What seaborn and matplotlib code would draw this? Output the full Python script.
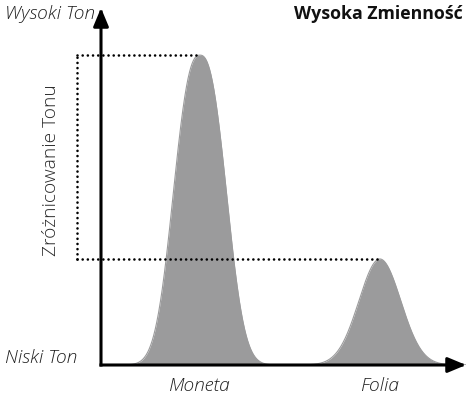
import numpy as np
import pandas as pd
import matplotlib
matplotlib.use("Agg")
import matplotlib.pyplot as plt
from matplotlib.patches import FancyArrowPatch
import seaborn as sns

# Two tone distributions drawn as bell curves
categories = ["Moneta", "Folia"]
peak_pos = [27.1, 76.4]        # centre of each bell on the horizontal axis
peak_height = [86.8, 29.7]     # tone spread reached by each bell
peak_width = [9.0, 8.1]        # half-width parameter of each bell
peak_shape = [2.5, 2.0]        # exponent of the bell (2 = gaussian)

y_top_label = "Wysoki Ton"
y_bottom_label = "Niski Ton"
y_axis_title = "Zróżnicowanie Tonu"
chart_title = "Wysoka Zmienność"

sns.set_theme(style="white")
plt.rcParams["font.family"] = ["Open Sans", "DejaVu Sans"]

W, H = 467, 396
fig = plt.figure(figsize=(W / 100, H / 100), dpi=100)
ax = fig.add_axes([101 / W, (H - 365) / H, (466 - 101) / W, (365 - 8) / H])
ax.set_xlim(0, 100)
ax.set_ylim(0, 100)
ax.axis("off")

fill_color = "#9b9b9c"
x = np.linspace(0, 100, 1200)
frames = []
for name, c, h, w, p in zip(categories, peak_pos, peak_height, peak_width, peak_shape):
    y = h * np.exp(-np.abs((x - c) / w) ** p)
    frames.append(pd.DataFrame({"x": x, "y": y, "kategoria": name}))
curves = pd.concat(frames, ignore_index=True)

sns.lineplot(data=curves, x="x", y="y", units="kategoria", estimator=None,
             color=fill_color, lw=0.8, ax=ax, legend=False)
for name in categories:
    d = curves[curves["kategoria"] == name]
    ax.fill_between(d["x"], 0, d["y"], color=fill_color, lw=0, zorder=2)

# Dotted guides from the peaks back to the tone scale
guide_x = -6.6
dot_kw = dict(color="black", lw=1.9, linestyle=(0, (0.01, 1.95)),
              dash_capstyle="round", clip_on=False, zorder=4)
ax.plot([guide_x, peak_pos[0]], [peak_height[0]] * 2, **dot_kw)
ax.plot([guide_x, peak_pos[1]], [peak_height[1]] * 2, **dot_kw)
ax.plot([guide_x, guide_x], [peak_height[1], peak_height[0]], **dot_kw)

# Axes drawn as arrows
arrow_kw = dict(arrowstyle="-|>,head_length=11,head_width=4.6",
                mutation_scale=1, color="black", lw=2.2,
                shrinkA=0, shrinkB=0, capstyle="projecting",
                transform=ax.transAxes, clip_on=False, zorder=5)
ax.add_patch(FancyArrowPatch((0, 0), (1, 0), **arrow_kw))
ax.add_patch(FancyArrowPatch((0, 0), (0, 1), **arrow_kw))

txt_color = "#1e1e1e"
fs = 13.8
def px(xp, yp):
    return xp / W, 1 - yp / H

fig.text(*px(5, 14), y_top_label, style="italic", weight="light", fontsize=fs,
         color=txt_color, ha="left", va="center")
fig.text(*px(5, 358), y_bottom_label, style="italic", weight="light", fontsize=fs,
         color=txt_color, ha="left", va="center")
fig.text(*px(463, 14), chart_title, weight="bold", fontsize=12.8,
         color="#111111", ha="right", va="center")
fig.text(*px(51, 170), y_axis_title, rotation=90, weight="light", fontsize=fs,
         color="#2a2a2a", ha="center", va="center")
for name, c in zip(categories, peak_pos):
    ax.text(c, -6.0, name, style="italic", weight="light", fontsize=fs,
            color=txt_color, ha="center", va="center",
            transform=ax.transData, clip_on=False)

fig.savefig("out.png", dpi=100)
